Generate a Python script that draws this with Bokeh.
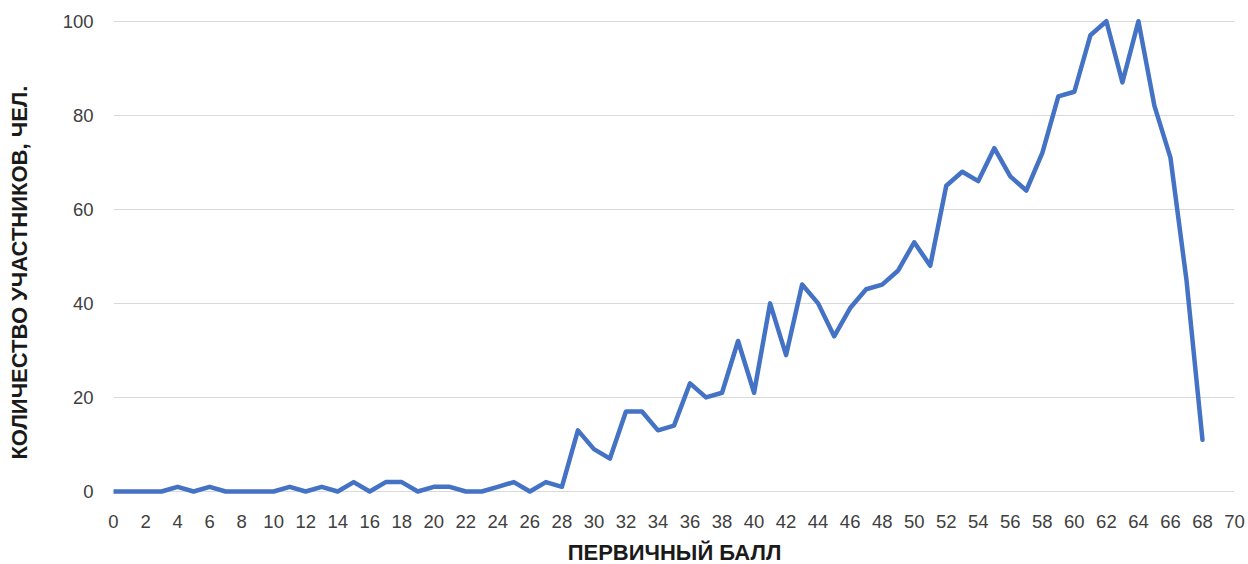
import math
from bokeh.plotting import figure
from bokeh.models import Range1d, FixedTicker
from bokeh.layouts import column, row
from bokeh.core.properties import value
from bokeh.embed import file_html
from bokeh.resources import INLINE

# Data
scores = list(range(0, 69))
counts = [0, 0, 0, 0, 1, 0, 1, 0, 0, 0,
          0, 1, 0, 1, 0, 2, 0, 2, 2, 0,
          1, 1, 0, 0, 1, 2, 0, 2, 1, 13,
          9, 7, 17, 17, 13, 14, 23, 20, 21, 32,
          21, 40, 29, 44, 40, 33, 39, 43, 44, 47,
          53, 48, 65, 68, 66, 73, 67, 64, 72, 84,
          85, 97, 100, 87, 100, 82, 71, 45, 11]
x_ticks = list(range(0, 71, 2))
y_ticks = [0, 20, 40, 60, 80, 100]
x_title = "ПЕРВИЧНЫЙ БАЛЛ"
y_title = "КОЛИЧЕСТВО УЧАСТНИКОВ, ЧЕЛ."

FONT = "Liberation Sans"
TITLE_COLOR = "#1a1a1a"


def blank(w, h):
    f = figure(width=w, height=h, output_backend="svg", toolbar_location=None,
               x_range=Range1d(0, w), y_range=Range1d(h, 0),
               x_axis_location=None, y_axis_location=None,
               min_border=0)
    f.grid.visible = False
    f.outline_line_color = None
    f.border_fill_color = "white"
    f.background_fill_color = "white"
    return f


# left strip with vertical axis title
yt = blank(56, 540)
yt.text(x=[18.6], y=[289], text=[y_title], angle=math.pi / 2,
        text_align="center", text_baseline="alphabetic",
        text_font=value(FONT), text_font_size="22px",
        text_font_style="bold", text_color=TITLE_COLOR)

# main chart
p = figure(width=1192, height=540, output_backend="svg", toolbar_location=None,
           x_range=Range1d(0, 70), y_range=Range1d(-1.49, 101.85),
           min_border_left=57, min_border_right=14, min_border_top=12,
           min_border_bottom=42)
p.outline_line_color = None
p.background_fill_color = "white"
p.border_fill_color = "white"

p.line(scores, counts, line_color="#4472C4", line_width=4.5,
       line_join="round", line_cap="round")

p.xaxis.ticker = FixedTicker(ticks=x_ticks)
p.yaxis.ticker = FixedTicker(ticks=y_ticks)
for ax in (p.xaxis, p.yaxis):
    ax.axis_line_color = None
    ax.major_tick_line_color = None
    ax.minor_tick_line_color = None
    ax.major_tick_out = 0
    ax.major_tick_in = 0
    ax.major_label_text_font = FONT
    ax.major_label_text_font_size = "18.5px"
    ax.major_label_text_color = "#404040"
p.yaxis.major_label_standoff = 20
p.xaxis.major_label_standoff = 16

p.xgrid.grid_line_color = None
p.ygrid.ticker = FixedTicker(ticks=y_ticks)
p.ygrid.grid_line_color = "#D9D9D9"
p.ygrid.grid_line_width = 1

# bottom strip with horizontal axis title
xt = blank(1248, 24)
xt.text(x=[674], y=[11.5], text=[x_title], text_align="center",
        text_baseline="alphabetic", text_font=value(FONT),
        text_font_size="22px", text_font_style="bold",
        text_color=TITLE_COLOR)

layout = column(row(yt, p), xt)
open("out.html", "w").write(file_html(layout, INLINE))
